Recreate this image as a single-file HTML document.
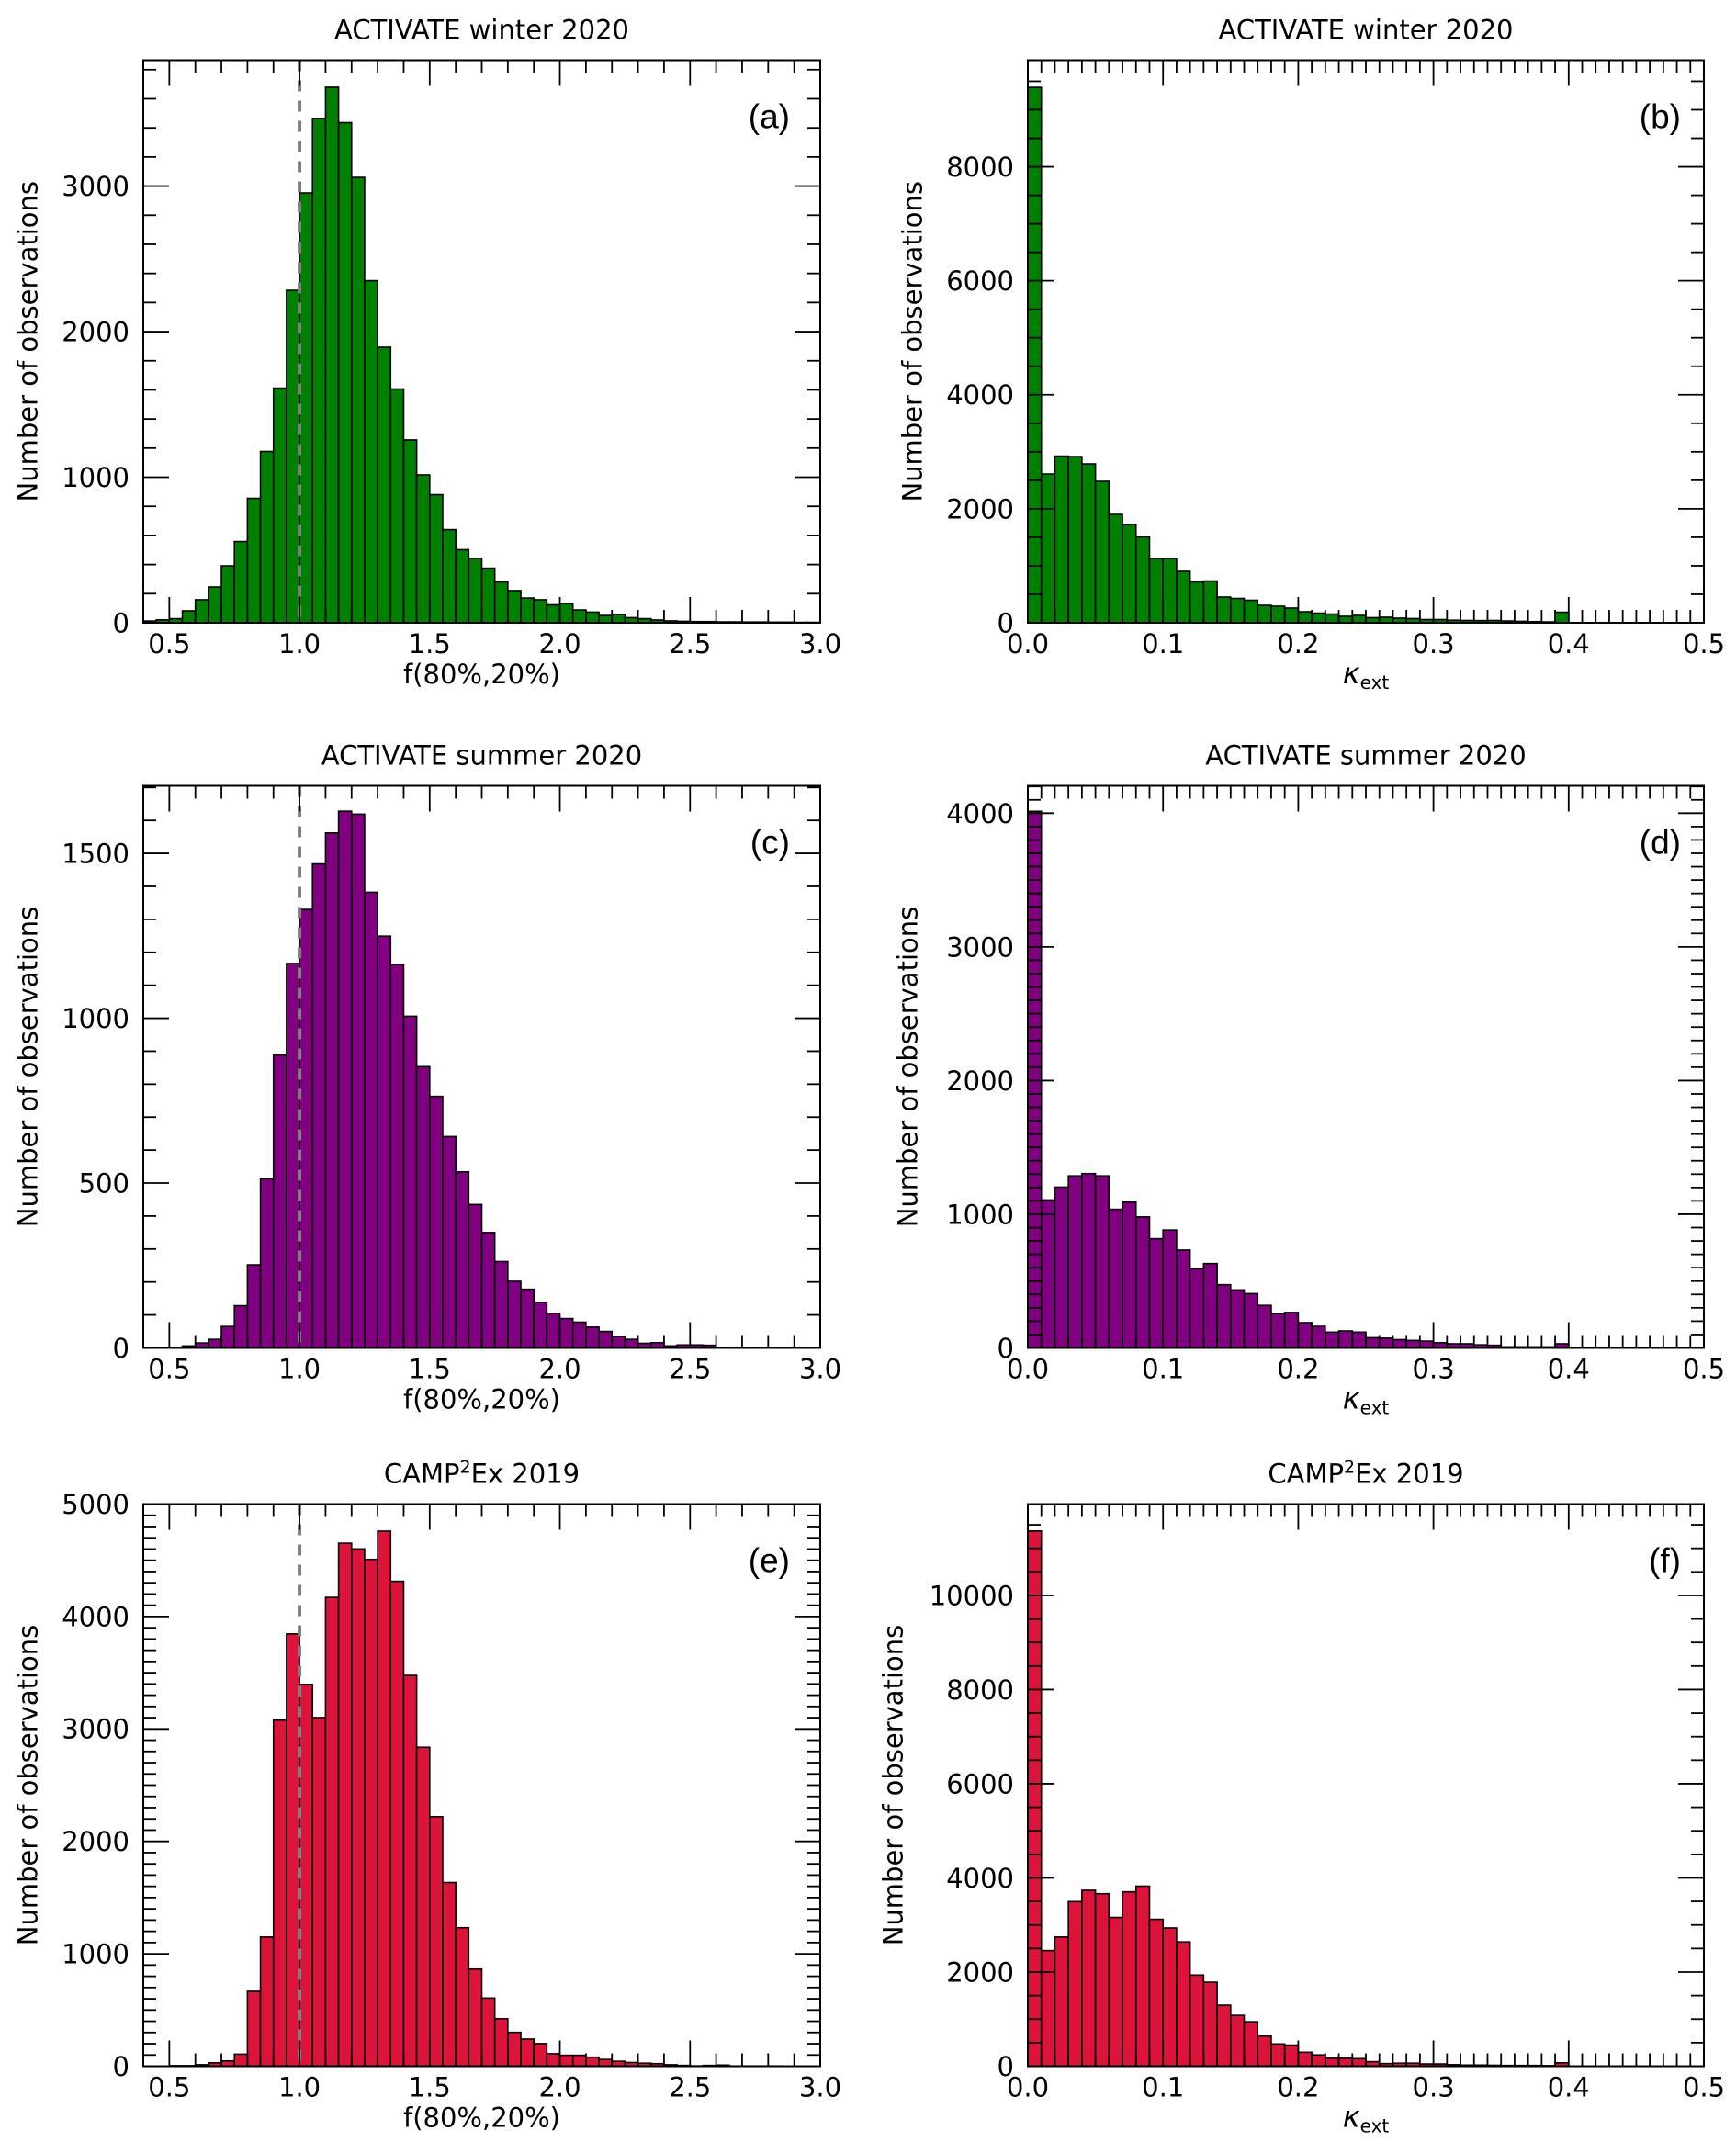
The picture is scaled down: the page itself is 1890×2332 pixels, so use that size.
<!DOCTYPE html>
<html><head><meta charset="utf-8"><title>Histograms</title>
<style>html,body{margin:0;padding:0;background:#fff}svg{display:block}text{font-family:"DejaVu Sans","Liberation Sans",sans-serif;fill:#000}</style>
</head><body>
<svg id="fig" xmlns="http://www.w3.org/2000/svg" width="1890" height="2332" viewBox="0 0 1890 2332"></svg>
<script>
// ---- data (bin counts) ----
const fBinStart = 0.40, fBinWidth = 0.05;
const kBinStart = 0.00, kBinWidth = 0.01;
const countsA = [12,20,28,82,158,246,391,558,855,1177,1612,2284,2953,3464,3679,3436,3060,2350,1893,1606,1256,1016,880,640,502,442,375,281,221,170,158,123,132,88,73,50,57,35,28,19,13,10,8,8,6,6,5,5,4,4,3,3];
const countsB = [9393,2610,2924,2916,2787,2481,1901,1724,1506,1128,1128,902,717,733,451,427,395,306,290,258,193,169,153,113,129,89,97,81,73,56,56,45,40,38,40,32,25,20,15,185];
const countsC = [0,0,2,6,15,26,65,128,252,513,888,1166,1330,1468,1562,1628,1619,1382,1249,1163,1006,853,763,641,534,435,350,262,202,178,138,105,89,78,63,50,35,26,14,16,6,9,9,8,2,1,1,1,1,1,1,1];
const countsD = [4014,1107,1203,1287,1304,1287,1037,1090,980,817,882,732,592,631,473,434,406,318,256,265,189,161,118,127,118,76,73,62,56,51,39,31,31,23,20,8,8,8,8,31];
const countsE = [0,0,5,5,13,30,47,107,666,1149,3078,3845,3396,3101,4170,4652,4601,4508,4759,4313,3476,2837,2220,1634,1232,864,606,422,301,241,201,111,97,97,80,60,44,33,27,23,13,7,3,7,10,2,2,2,2,1,1,1];
const countsF = [11368,2456,2744,3496,3736,3664,3160,3704,3824,3120,2936,2640,1936,1784,1296,1080,944,640,472,448,296,240,168,168,160,96,56,64,64,48,48,32,24,24,20,16,16,16,12,72];
const fTickValues = [0.5,1.0,1.5,2.0,2.5,3.0];
const fTickLabels = ["0.5","1.0","1.5","2.0","2.5","3.0"];
const kTickValues = [0.0,0.1,0.2,0.3,0.4,0.5];
const kTickLabels = ["0.0","0.1","0.2","0.3","0.4","0.5"];
const yTicksA = [0,1000,2000,3000];
const yTicksB = [0,2000,4000,6000,8000];
const yTicksC = [0,500,1000,1500];
const yTicksD = [0,1000,2000,3000,4000];
const yTicksE = [0,1000,2000,3000,4000,5000];
const yTicksF = [0,2000,4000,6000,8000,10000];

const NS = "http://www.w3.org/2000/svg";
const svg = document.getElementById('fig');
function mk(tag, attrs, parent){const e=document.createElementNS(NS,tag);for(const k in attrs)e.setAttribute(k,attrs[k]);(parent||svg).appendChild(e);return e;}

const L = {x0:156, x1:893}, R = {x0:1119, x1:1855};
const rows = [{t:65.5,b:678},{t:855.5,b:1467.5},{t:1637.5,b:2249.5}];
const panels = [
 {id:'a',col:L,row:rows[0],kind:'f',counts:countsA,ymax:3865,yt:yTicksA,yminor:200,color:'#008000',title:'ACTIVATE winter 2020',ylx:30},
 {id:'b',col:R,row:rows[0],kind:'k',counts:countsB,ymax:9870,yt:yTicksB,yminor:500,color:'#008000',title:'ACTIVATE winter 2020',ylx:993},
 {id:'c',col:L,row:rows[1],kind:'f',counts:countsC,ymax:1705,yt:yTicksC,yminor:100,color:'#800080',title:'ACTIVATE summer 2020',ylx:30},
 {id:'d',col:R,row:rows[1],kind:'k',counts:countsD,ymax:4205,yt:yTicksD,yminor:100,color:'#800080',title:'ACTIVATE summer 2020',ylx:988},
 {id:'e',col:L,row:rows[2],kind:'f',counts:countsE,ymax:5000,yt:yTicksE,yminor:100,color:'#DC143C',title:'CAMP2Ex 2019',ylx:30},
 {id:'f',col:R,row:rows[2],kind:'k',counts:countsF,ymax:11940,yt:yTicksF,yminor:500,color:'#DC143C',title:'CAMP2Ex 2019',ylx:972}
];

panels.forEach(p=>{
  const g = mk('g',{});
  
  
  const x0=p.col.x0,x1=p.col.x1,top=p.row.t,bot=p.row.b;
  const isF = p.kind==='f';
  const xmin = isF?0.4:0.0, xmax = isF?3.0:0.5;
  const bs = isF?fBinStart:kBinStart, bw = isF?fBinWidth:kBinWidth;
  const X = v => x0 + (v-xmin)/(xmax-xmin)*(x1-x0);
  const Y = v => bot - v/p.ymax*(bot-top);
  // bars
  p.counts.forEach((c,i)=>{
    const xa=X(bs+i*bw), xb=X(bs+(i+1)*bw);
    const r = mk('rect',{x:xa,y:Y(c),width:xb-xa,height:bot-Y(c),fill:p.color,stroke:'#000','stroke-width':1.6},g);
    
    
  });
  // dashed line
  if(isF){
    const dl = mk('line',{x1:X(1.0),x2:X(1.0),y1:top,y2:bot,stroke:'#808080','stroke-width':4,'stroke-dasharray':'12,10'},g);
    
    
  }
  // frame
  const fr = mk('rect',{x:x0,y:top,width:x1-x0,height:bot-top,fill:'none',stroke:'#000','stroke-width':2},g);
  
  
  // x ticks
  const minorStep = isF?0.1:0.01;
  const nMin = Math.round((xmax-xmin)/minorStep);
  for(let k=0;k<=nMin;k++){
    const v = xmin + k*minorStep;
    const major = Math.abs(Math.round(v*10)/10 - v) < 1e-6 && (isF ? Math.abs(v*2-Math.round(v*2))<1e-6 : true);
    const len = major?28:14;
    const xx = X(v);
    mk('line',{x1:xx,x2:xx,y1:top,y2:top+len,stroke:'#000','stroke-width':1.8},g);
    mk('line',{x1:xx,x2:xx,y1:bot,y2:bot-len,stroke:'#000','stroke-width':1.8},g);
  }
  const tv = isF?fTickValues:kTickValues, tl = isF?fTickLabels:kTickLabels;
  tv.forEach((v,i)=>{
    const t = mk('text',{x:X(v),y:bot+33,'font-size':29,'text-anchor':'middle'},g);
    t.textContent = tl[i];
    
    
  });
  // y ticks
  for(let v=0; v<=p.ymax; v+=p.yminor){
    const major = p.yt.indexOf(v)>=0;
    const len = major?28:14;
    const yy=Y(v);
    mk('line',{x1:x0,x2:x0+len,y1:yy,y2:yy,stroke:'#000','stroke-width':1.8},g);
    mk('line',{x1:x1,x2:x1-len,y1:yy,y2:yy,stroke:'#000','stroke-width':1.8},g);
  }
  p.yt.forEach(v=>{
    const t = mk('text',{x:x0-15,y:Y(v),dy:'0.36em','font-size':29,'text-anchor':'end'},g);
    t.textContent = String(v);
    
    
  });
  // y label
  const yc=(top+bot)/2;
  const yl = mk('text',{x:p.ylx,y:yc,'font-size':29,'text-anchor':'middle',dy:'0.36em',transform:'rotate(-90 '+p.ylx+' '+yc+')'},g);
  yl.textContent='Number of observations';
  
  
  // x label
  const xc=(x0+x1)/2;
  const xl = mk('text',{x:xc,y:bot+66,'font-size':29,'text-anchor':'middle'},g);
  if(isF){ xl.textContent='f(80%,20%)'; }
  else {
    const s1=mk('tspan',{'font-style':'italic','font-size':32},xl); s1.textContent='κ';
    const s2=mk('tspan',{'font-size':20,dy:6},xl); s2.textContent='ext';
  }
  
  
  // title
  const tt = mk('text',{x:xc,y:top-23,'font-size':29,'text-anchor':'middle'},g);
  if(p.title.indexOf('CAMP2')===0){
    const a=mk('tspan',{},tt); a.textContent='CAMP';
    const b=mk('tspan',{'font-size':19,dy:-11},tt); b.textContent='2';
    const c=mk('tspan',{dy:11},tt); c.textContent='Ex 2019';
  } else tt.textContent=p.title;
  
  
  // letter
  const lt = mk('text',{x:x1-(isF?33:25),y:top+74,'font-size':37,'text-anchor':'end',style:'font-family:"Liberation Sans",sans-serif'},g);
  lt.textContent='('+p.id+')';
  
  
});
</script>
</body></html>
